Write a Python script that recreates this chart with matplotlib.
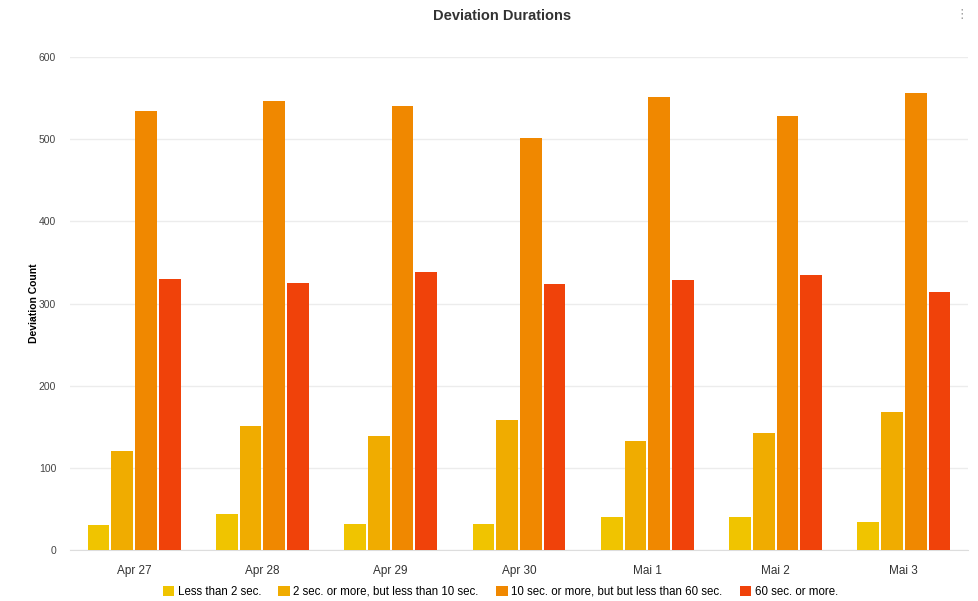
import numpy as np
import matplotlib
matplotlib.use('Agg')
import matplotlib.pyplot as plt

days = ['Apr 27', 'Apr 28', 'Apr 29', 'Apr 30', 'Mai 1', 'Mai 2', 'Mai 3']
series_names = ['Less than 2 sec.',
                '2 sec. or more, but less than 10 sec.',
                '10 sec. or more, but but less than 60 sec.',
                '60 sec. or more.']
under_2 = [30, 44, 32, 32, 40, 40, 34]
from_2_to_10 = [120, 151, 139, 158, 133, 142, 168]
from_10_to_60 = [534, 547, 540, 501, 551, 528, 556]
over_60 = [330, 325, 338, 324, 328, 335, 314]
colors = ['#f0c400', '#f0ac00', '#f08800', '#f0420a']

plt.rcParams['font.family'] = ['Liberation Sans', 'DejaVu Sans']

fig = plt.figure(figsize=(9.79, 6.01), dpi=100)
ax = fig.add_axes([70 / 979, 51 / 601, 898 / 979, 493 / 601])

x = np.arange(len(days))
w = 0.185
all_series = [under_2, from_2_to_10, from_10_to_60, over_60]
for i, vals in enumerate(all_series):
    ax.bar(x + (i - 1.5) * w, vals, width=w - 0.016, color=colors[i],
           label=series_names[i], zorder=3)

ax.set_xlim(-0.5, len(days) - 0.5)
ax.set_ylim(0, 600)
ax.set_yticks(range(0, 601, 100))
ax.set_xticks(x)
ax.set_xticklabels(days)
ax.grid(axis='y', color='#ececec', linewidth=1, zorder=0)
for s in ['top', 'right', 'left']:
    ax.spines[s].set_visible(False)
ax.spines['bottom'].set_color('#dddddd')
ax.tick_params(axis='y', length=0, labelsize=7.5, colors='#444444', pad=10)
ax.tick_params(axis='x', length=0, labelsize=8.5, colors='#333333', pad=11)
ax.set_ylabel('Deviation Count', fontsize=7.5, fontweight='bold', labelpad=0)

fig.text(0.513, 0.974, 'Deviation Durations', ha='center', va='center',
         fontsize=10.5, fontweight='bold', color='#333333')
fig.text(0.982, 0.975, '\u22ee', ha='center', va='center', fontsize=9, color='#999999')

fig.legend(loc='lower center', bbox_to_anchor=(0.511, -0.012), ncol=4, frameon=False,
           fontsize=8.3, handlelength=1.0, handleheight=1.0, handletextpad=0.3,
           columnspacing=1.5)

fig.savefig('out.png', dpi=100)
